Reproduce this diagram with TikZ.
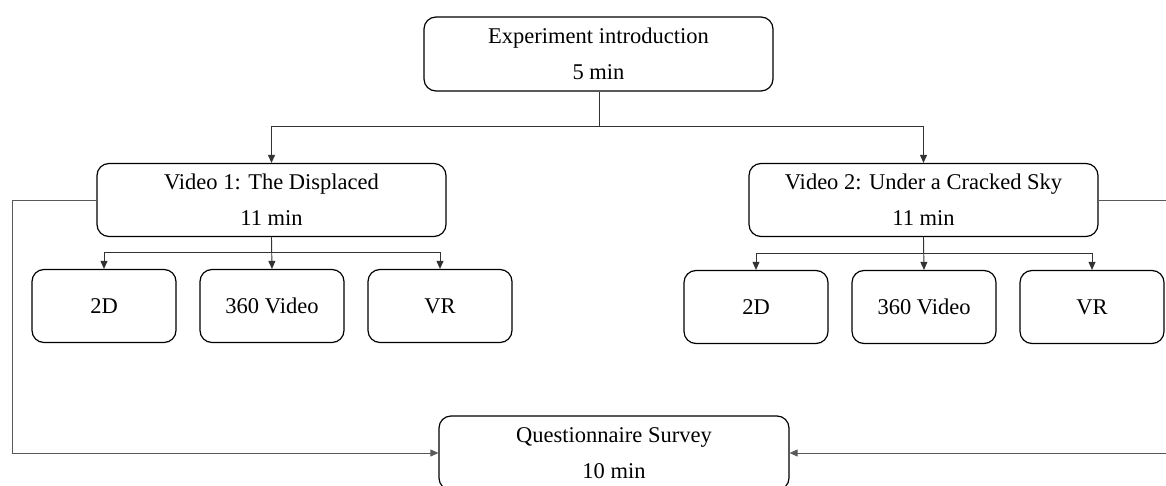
\documentclass[tikz,border=0pt]{standalone}
\usepackage{fontspec}
\setmainfont{Liberation Serif}
\usetikzlibrary{arrows.meta}
\tikzset{
  box/.style={draw=black, line width=1.2pt, rounded corners=12pt, inner sep=0pt,
    align=center, font=\fontsize{22.5}{36}\selectfont},
  bigbox/.style={box, minimum width=349pt, minimum height=74pt},
  smallbox/.style={box, minimum width=144pt, minimum height=73pt},
  conn/.style={draw=black!80, line width=0.9pt, -{Triangle[length=8pt,width=7pt]}},
  loop/.style={draw=black!65, line width=0.9pt, -{Triangle[length=8pt,width=7pt]}}
}
\begin{document}
\begin{tikzpicture}[x=1pt,y=-1pt]
\useasboundingbox (0,0) rectangle (1166,486);
\node[bigbox] (top) at (598.5,54) {Experiment introduction\\5 min};
\node[bigbox, minimum height=73pt] (v1) at (271.5,200) {Video 1: The Displaced\\11 min};
\node[bigbox, minimum height=73pt] (v2) at (923.5,200) {Video 2: Under a Cracked Sky\\11 min};
\node[smallbox] (a1) at (104,306) {2D};
\node[smallbox] (b1) at (272,306) {360 Video};
\node[smallbox] (c1) at (440,306) {VR};
\node[smallbox] (a2) at (756,307) {2D};
\node[smallbox] (b2) at (924,307) {360 Video};
\node[smallbox] (c2) at (1092,307) {VR};
\node[bigbox, minimum width=350pt] (q) at (614,453) {Questionnaire Survey\\10 min};
\coordinate (jt) at (599,126);
\coordinate (lx) at (12,0);
\coordinate (rx) at (1178,0);
% top to videos
\draw[conn] (top.south -| jt) -- (jt) -| (v1.north);
\draw[conn] (jt) -| (v2.north);
% video 1 to children
\draw[conn] (v1.south) -- ++(0,15) -| (a1.north);
\draw[conn] (v1.south) -- (b1.north);
\draw[conn] (v1.south) ++(0,15) -| (c1.north);
% video 2 to children
\draw[conn] (v2.south) -- ++(0,16) -| (a2.north);
\draw[conn] (v2.south) -- (b2.north);
\draw[conn] (v2.south) ++(0,16) -| (c2.north);
% loops to questionnaire
\draw[loop] (v1.west) -- (v1.west -| lx) |- (q.west);
\draw[loop] (v2.east) -- (v2.east -| rx) |- (q.east);
\end{tikzpicture}
\end{document}
